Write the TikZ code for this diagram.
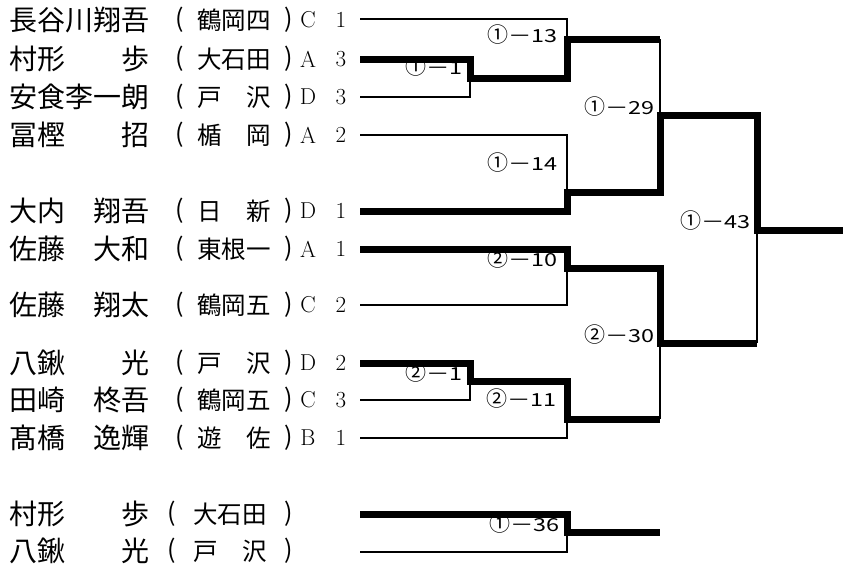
\documentclass[tikz,border=0pt]{standalone}
\usepackage{fontspec}
\newfontfamily\jp{Noto Sans CJK JP}
\newfontfamily\jpw[FakeStretch=1.3]{Noto Sans CJK JP}
\newcommand\circnum[1]{{\jp\fontsize{21}{23}\selectfont #1}}
\tikzset{
  nm/.style={anchor=west, inner sep=0pt, font=\jp\fontsize{28}{30}\selectfont},
  sc/.style={inner sep=0pt, font=\jp\fontsize{24.5}{26}\selectfont},
  pa/.style={inner sep=0pt, font=\jp\fontsize{25}{27}\selectfont},
  gr/.style={inner sep=0pt, font=\fontsize{23}{25}\selectfont},
  res/.style={anchor=east, inner sep=0pt, font=\jpw\fontsize{18}{20}\selectfont},
  lo/.style={line width=2.5pt},
  win/.style={line width=7pt},
}
\newcommand\entry[6]{%
  \node[nm] (n#1) at (9.5,#2) {#3};
  \node[pa] (l#1) at (180,#2) {(};
  \node[sc] (s#1) at (234,#2) {#4};
  \node[pa] (r#1) at (289,#2) {)};
  \node[gr] (g#1) at (308,#2) {#5};
  \node[gr] (d#1) at (341,#2) {#6};
}
\begin{document}
\begin{tikzpicture}[x=1pt,y=-1pt]
\useasboundingbox (0,0) rectangle (843,566);
\fill[white] (0,0) rectangle (843,566);
% entries
\entry{1}{20}{長谷川翔吾}{鶴岡四}{C}{1}
\entry{2}{59}{村形\hspace{2em}歩}{大石田}{A}{3}
\entry{3}{97}{安食李一朗}{戸\hspace{1em}沢}{D}{3}
\entry{4}{135}{冨樫\hspace{2em}招}{楯\hspace{1em}岡}{A}{2}
\entry{5}{211}{大内\hspace{1em}翔吾}{日\hspace{1em}新}{D}{1}
\entry{6}{249}{佐藤\hspace{1em}大和}{東根一}{A}{1}
\entry{7}{305}{佐藤\hspace{1em}翔太}{鶴岡五}{C}{2}
\entry{8}{363}{八鍬\hspace{2em}光}{戸\hspace{1em}沢}{D}{2}
\entry{9}{400}{田崎\hspace{1em}柊吾}{鶴岡五}{C}{3}
\entry{10}{438}{髙橋\hspace{1em}逸輝}{遊\hspace{1em}佐}{B}{1}
\node[nm] (n11) at (9.5,514) {村形\hspace{2em}歩};
\node[pa] (l11) at (172,514) {(};
\node[sc] (s11) at (230,514) {大石田};
\node[pa] (r11) at (289,514) {)};
\node[nm] (n12) at (9.5,551) {八鍬\hspace{2em}光};
\node[pa] (l12) at (172,551) {(};
\node[sc] (s12) at (230,551) {戸\hspace{1em}沢};
\node[pa] (r12) at (289,551) {)};
% result labels
\node[res] (m1) at (463,67) {\circnum{①}－1};
\node[res] (m13) at (558,35) {\circnum{①}－13};
\node[res] (m14) at (558,163) {\circnum{①}－14};
\node[res] (m29) at (655,107) {\circnum{①}－29};
\node[res] (m43) at (751,221) {\circnum{①}－43};
\node[res] (m10) at (558,259) {\circnum{②}－10};
\node[res] (m30) at (655,335) {\circnum{②}－30};
\node[res] (m2) at (463,373) {\circnum{②}－1};
\node[res] (m11) at (557,399) {\circnum{②}－11};
\node[res] (m36) at (560,524) {\circnum{①}－36};
% line start points
\coordinate (p1) at (360,19);
\coordinate (p2) at (360,59);
\coordinate (p3) at (360,97);
\coordinate (p4) at (360,135);
\coordinate (p5) at (360,211);
\coordinate (p6) at (360,249);
\coordinate (p7) at (360,305);
\coordinate (p8) at (360,363);
\coordinate (p9) at (360,400);
\coordinate (p10) at (360,438);
\coordinate (p11) at (360,514);
\coordinate (p12) at (360,552);
% junctions
\coordinate (j1) at (470,78);
\coordinate (j2) at (567,39);
\coordinate (j3) at (567,192);
\coordinate (j4) at (660,115);
\coordinate (j5) at (567,268);
\coordinate (j6) at (470,381);
\coordinate (j7) at (567,419);
\coordinate (j8) at (660,343);
\coordinate (j9) at (757,230);
\coordinate (j10) at (567,532);
\coordinate (e) at (843,230);
\coordinate (f) at (660,532);
% thin lines
\draw[lo] (p1) -| (j2);
\draw[lo] (p3) -| (j1);
\draw[lo] (p4) -| (j3);
\draw[lo] (p7) -| (j5);
\draw[lo] (p9) -| (j6);
\draw[lo] (p10) -| (j7);
\draw[lo] (p12) -| (j10);
\draw[lo] (j2 -| j4) -- (j4);
\draw[lo] (j8) -- (j7 -| j8);
\draw[lo] (j9) -- (j8 -| j9);
% winner lines
\draw[win] (p2) -| (j1) -| (j2) -- (j2 -| j4);
\draw[win] (p5) -| (j3) -| (j4) -| (j9) -- (e);
\draw[win] (p6) -| (j5) -| (j8) -- (j8 -| j9);
\draw[win] (p8) -| (j6) -| (j7) -- (j7 -| j8);
\draw[win] (p11) -| (j10) -- (f);
\end{tikzpicture}
\end{document}
